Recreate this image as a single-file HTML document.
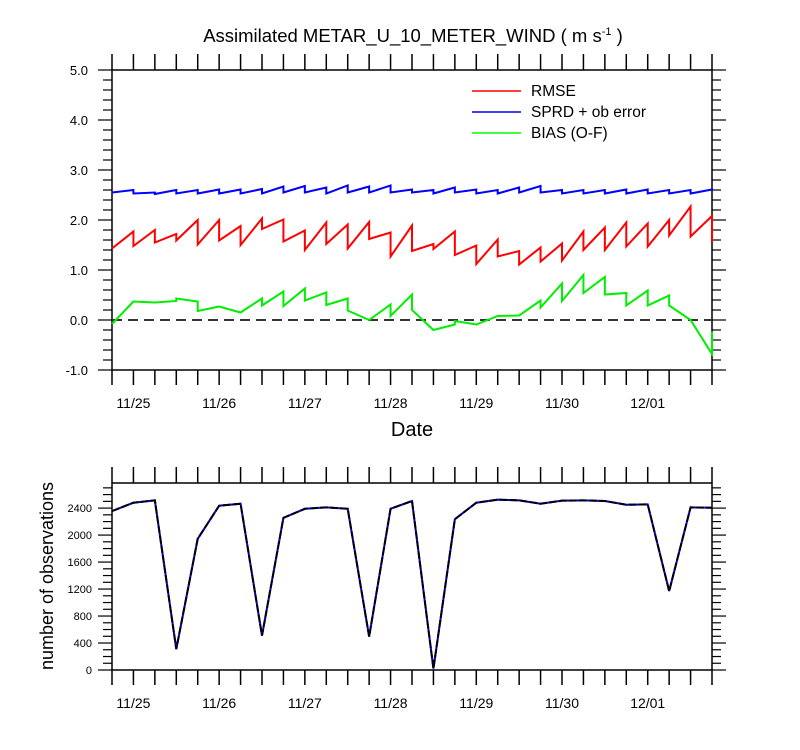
<!DOCTYPE html>
<html><head><meta charset="utf-8"><style>
html,body{margin:0;padding:0;background:#fff;}
svg{display:block;font-family:"Liberation Sans",sans-serif;}
</style></head><body>
<svg id="chart" width="800" height="750" viewBox="0 0 800 750" xmlns="http://www.w3.org/2000/svg">
<rect width="800" height="750" fill="#fff"/>
<text x="413" y="42" text-anchor="middle" font-size="18.5">Assimilated METAR_U_10_METER_WIND ( m s<tspan dy="-7" font-size="11">-1</tspan><tspan dy="7"> )</tspan></text>
<text x="412" y="436" text-anchor="middle" font-size="20">Date</text>
<text transform="translate(53,576) rotate(-90)" text-anchor="middle" font-size="18">number of observations</text>
<g>
<line x1="472" y1="91" x2="521" y2="91" stroke="#ff0000" stroke-width="1.5"/>
<text x="531" y="96" font-size="15.5">RMSE</text>
<line x1="472" y1="112" x2="521" y2="112" stroke="#0000ff" stroke-width="1.5"/>
<text x="531" y="117" font-size="15.5">SPRD + ob error</text>
<line x1="472" y1="133" x2="521" y2="133" stroke="#00ff00" stroke-width="1.5"/>
<text x="531" y="138" font-size="15.5">BIAS (O-F)</text>
</g>
</svg>
<script>
const dateLabels = ["11/25","11/26","11/27","11/28","11/29","11/30","12/01"];
const yTicksTop = [-1,0,1,2,3,4,5];
const yTicksBottom = [0,400,800,1200,1600,2000,2400];
const rmsePrior = [1.77,1.77,1.80,1.72,2.00,2.00,1.88,2.03,2.01,1.79,1.95,1.91,1.96,1.75,1.89,1.52,1.77,1.49,1.61,1.38,1.45,1.53,1.77,1.85,1.95,1.93,2.00,2.27,2.08];
const rmsePost = [1.43,1.48,1.55,1.59,1.51,1.59,1.50,1.82,1.57,1.40,1.52,1.43,1.62,1.27,1.38,1.42,1.30,1.12,1.27,1.11,1.17,1.19,1.40,1.40,1.47,1.47,1.69,1.67,1.55];
const sprdPrior = [2.60,2.60,2.55,2.60,2.60,2.61,2.61,2.62,2.67,2.68,2.65,2.69,2.67,2.69,2.61,2.60,2.65,2.61,2.60,2.65,2.68,2.60,2.60,2.60,2.61,2.61,2.60,2.60,2.61];
const sprdPost = [2.55,2.53,2.52,2.53,2.53,2.53,2.53,2.53,2.55,2.55,2.53,2.55,2.55,2.55,2.55,2.53,2.55,2.53,2.53,2.55,2.55,2.53,2.53,2.53,2.53,2.53,2.53,2.53,2.60];
const biasPrior = [-0.08,0.37,0.35,0.38,0.37,0.27,0.15,0.43,0.57,0.63,0.55,0.43,0.00,0.31,0.51,-0.20,-0.09,-0.09,0.08,0.09,0.39,0.73,0.90,0.86,0.54,0.59,0.49,0.00,-0.68];
const biasPost = [-0.08,0.37,0.35,0.43,0.18,0.27,0.15,0.29,0.28,0.39,0.30,0.19,0.00,0.08,0.20,-0.20,-0.02,-0.09,0.08,0.09,0.25,0.38,0.54,0.51,0.29,0.29,0.29,0.00,-0.23];
const obsCount = [2355,2480,2515,310,1945,2435,2465,510,2255,2390,2410,2390,495,2390,2505,20,2235,2480,2525,2515,2465,2510,2515,2505,2450,2455,1170,2410,2405];

const svg = document.getElementById('chart');
const NS = 'http://www.w3.org/2000/svg';
const X0 = 112, X1 = 712, NPTS = 29;
function xPos(i){ return X0 + (X1 - X0) * i / (NPTS - 1); }
function yTop(v){ return 320 - 50 * v; }
const B0 = 670, BTOP = 483, BMAX = 2772;
function yBot(v){ return B0 - (B0 - BTOP) * v / BMAX; }
function mk(tag, attrs){ const e = document.createElementNS(NS, tag); for (const k in attrs) e.setAttribute(k, attrs[k]); svg.appendChild(e); return e; }

function drawFrame(top, bottom, name){
  const g = mk('rect', {x:X0, y:top, width:X1-X0, height:bottom-top, fill:'none', stroke:'#000', 'stroke-width':1.5});
  
  
  for (let i = 0; i < NPTS; i++) {
    const x = xPos(i);
    const t1 = mk('line', {x1:x, y1:top, x2:x, y2:top-16, stroke:'#000', 'stroke-width':1.5});
    
    
    const t2 = mk('line', {x1:x, y1:bottom, x2:x, y2:bottom+15, stroke:'#000', 'stroke-width':1.5});
    
    
  }
  dateLabels.forEach((lab, k) => {
    const t = mk('text', {x:xPos(1 + 4*k), y:bottom+38, 'text-anchor':'middle', 'font-size':14});
    t.textContent = lab;
    
    
  });
}

// Top panel
drawFrame(70, 370, 'top-plot-frame');
for (let v = -1; v <= 5.001; v += 0.2) {
  const y = yTop(v);
  const major = Math.abs(v - Math.round(v)) < 0.01;
  const len = major ? 14 : 9;
  mk('line', {x1:X0, y1:y, x2:X0-len, y2:y, stroke:'#000', 'stroke-width':1.2});
  mk('line', {x1:X1, y1:y, x2:X1+len, y2:y, stroke:'#000', 'stroke-width':1.2});
}
yTicksTop.forEach(v => {
  const t = mk('text', {x:88, y:yTop(v)+5, 'text-anchor':'end', 'font-size':13});
  t.textContent = v.toFixed(1);
  
  
});
const zl = mk('line', {x1:X0, y1:yTop(0), x2:X1, y2:yTop(0), stroke:'#333', 'stroke-width':2, 'stroke-dasharray':'10,6'});



function saw(prior, post, color, name){
  let d = 'M' + xPos(0) + ',' + yTop(post[0]);
  for (let i = 1; i < NPTS; i++) {
    d += ' L' + xPos(i) + ',' + yTop(prior[i]) + ' L' + xPos(i) + ',' + yTop(post[i]);
  }
  const p = mk('path', {d:d, fill:'none', stroke:color, 'stroke-width':2, 'stroke-linejoin':'miter'});
  
  
}
saw(rmsePrior, rmsePost, '#ff0000', 'rmse-line');
saw(sprdPrior, sprdPost, '#0000ff', 'sprd-line');
saw(biasPrior, biasPost, '#00ee00', 'bias-line');

// Bottom panel
drawFrame(BTOP, B0, 'bottom-plot-frame');
for (let v = 0; v <= BMAX; v += 100) {
  const y = yBot(v);
  const major = v % 400 === 0;
  const len = major ? 14 : 9;
  mk('line', {x1:X0, y1:y, x2:X0-len, y2:y, stroke:'#000', 'stroke-width':1.2});
  mk('line', {x1:X1, y1:y, x2:X1+len, y2:y, stroke:'#000', 'stroke-width':1.2});
}
yTicksBottom.forEach(v => {
  const t = mk('text', {x:92, y:yBot(v)+4, 'text-anchor':'end', 'font-size':11});
  t.textContent = String(v);
  
  
});
let od = '';
obsCount.forEach((v, i) => { od += (i ? ' L' : 'M') + xPos(i) + ',' + yBot(v); });
const ob = mk('path', {d:od, fill:'none', stroke:'#0000ff', 'stroke-width':2});


const ok = mk('path', {d:od, fill:'none', stroke:'#000', 'stroke-width':2, 'stroke-dasharray':'8,2'});


</script>
</body></html>
